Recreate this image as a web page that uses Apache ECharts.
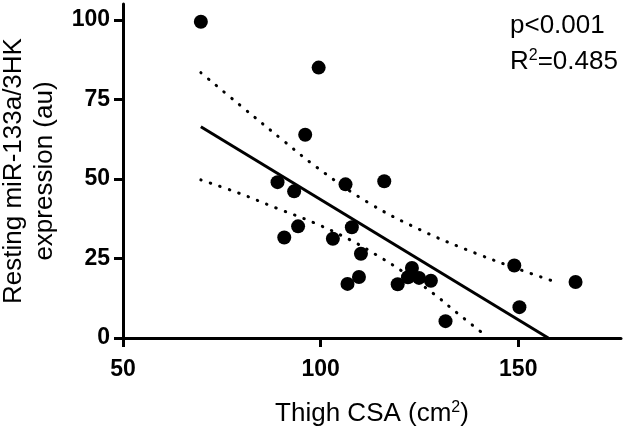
<!DOCTYPE html>
<html>
<head>
<meta charset="utf-8">
<script src="https://cdn.jsdelivr.net/npm/echarts@6/dist/echarts.min.js"></script>
<style>
html,body{margin:0;padding:0;background:#fff;}
#chart{width:630px;height:434px;}
</style>
</head>
<body>
<div id="chart"></div>
<script>
// Data
var thighCSA = [69.7, 99.5, 96.1, 89.1, 93.3, 106.3, 116.1, 94.3, 90.8, 103.1, 107.9, 110.2, 109.7, 106.8, 123.1, 122.1, 124.9, 119.5, 127.9, 131.6, 149.0, 150.3, 164.5];
var mirExpr  = [99.4, 85.0, 63.9, 49.0, 46.1, 48.3, 49.3, 35.1, 31.6, 31.2, 34.8, 26.5, 19.2, 17.0, 22.0, 19.1, 18.9, 16.9, 18.0, 5.3, 22.8, 9.7, 17.6];

// Regression line
var fitX = [69.7, 157.6];
var fitY = [66.4, 0];

// 95% confidence bands (dotted)
var upperX = [69.7, 79.4, 91.2, 99.1, 111.6, 125.2, 139.1, 151.1, 158.3];
var upperY = [83.4, 73.4, 61.4, 53.6, 42.9, 34.0, 26.7, 21.2, 18.1];
var lowerX = [69.7, 79.2, 88.9, 98.2, 107.4, 114.0, 120.4, 128.6, 134.5, 140.5];
var lowerY = [49.7, 45.6, 40.8, 36.3, 30.9, 26.2, 21.2, 13.9, 7.9, 2.0];

var xTicks = [50, 100, 150];
var yTicks = [0, 25, 50, 75, 100];

var statsP = 'p<0.001';
var statsR = 'R{sup|2}=0.485';
var xTitle = 'Thigh CSA (cm{sup|2})';
var yTitle = 'Resting miR-133a/3HK\nexpression (au)';

function zip(a, b) { return a.map(function (v, i) { return [v, b[i]]; }); }

var chart = echarts.init(document.getElementById('chart'), null, {renderer: 'canvas'});
var FONT = 'Liberation Sans, Arial, sans-serif';
var supStyle = {fontSize: 16, fontFamily: FONT, color: '#000', padding: [0, 0, 12, 0]};
var option = {
  backgroundColor: '#fff',
  animation: false,
  grid: {left: 123, right: 9, top: 4, bottom: 96, containLabel: false, outerBoundsMode: 'none'},
  xAxis: {
    type: 'value', min: 50, max: 176,
    name: xTitle, nameLocation: 'middle', nameGap: 62,
    nameTextStyle: {color: '#000', fontFamily: FONT, fontSize: 26, rich: {sup: supStyle}},
    axisLine: {show: true, onZero: false, lineStyle: {color: '#000', width: 3}},
    splitLine: {show: false},
    axisTick: {show: true, length: 9, lineStyle: {color: '#000', width: 3}, customValues: xTicks},
    axisLabel: {customValues: xTicks, color: '#000', fontWeight: 'bold', fontSize: 23, fontFamily: FONT, margin: 20}
  },
  yAxis: {
    type: 'value', min: 0, max: 105,
    name: yTitle, nameLocation: 'middle', nameGap: 61,
    nameTextStyle: {color: '#000', fontFamily: FONT, fontSize: 26, lineHeight: 31},
    axisLine: {show: true, onZero: false, lineStyle: {color: '#000', width: 3}},
    splitLine: {show: false},
    axisTick: {show: true, length: 9, lineStyle: {color: '#000', width: 3}, customValues: yTicks},
    axisLabel: {customValues: yTicks, color: '#000', fontWeight: 'bold', fontSize: 23, fontFamily: FONT, margin: 13}
  },
  graphic: [
    {type: 'text', left: 510, top: 13, style: {text: statsP, font: '26px ' + FONT, fill: '#000'}},
    {type: 'text', left: 510, top: 48, style: {text: statsR, font: '26px ' + FONT, fill: '#000',
      rich: {sup: {font: '16px ' + FONT, fill: '#000', padding: [0, 0, 12, 0]}}}}
  ],
  series: [
    {
      type: 'line', data: zip(upperX, upperY), smooth: 0.4, symbol: 'none',
      lineStyle: {color: '#000', width: 3, type: [0.5, 9.5], cap: 'round'}, silent: true
    },
    {
      type: 'line', data: zip(lowerX, lowerY), smooth: 0.4, symbol: 'none',
      lineStyle: {color: '#000', width: 3, type: [0.5, 9.5], cap: 'round'}, silent: true
    },
    {
      type: 'line', data: zip(fitX, fitY), symbol: 'none',
      lineStyle: {color: '#000', width: 3}, silent: true
    },
    {
      type: 'scatter', data: zip(thighCSA, mirExpr), symbol: 'circle', symbolSize: 14,
      itemStyle: {color: '#000', opacity: 1}, silent: true
    }
  ]
};
chart.setOption(option);
</script>
</body>
</html>
